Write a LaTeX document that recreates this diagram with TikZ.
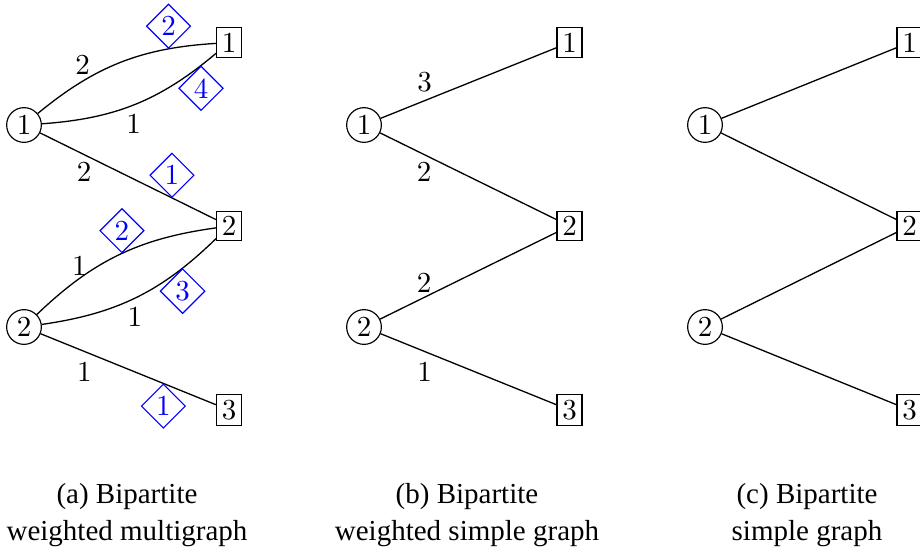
\documentclass[tikz,border=0pt]{standalone}
\usepackage{fontspec}
\newfontfamily\capfont{Liberation Serif}
\usetikzlibrary{shapes.geometric}
\tikzset{
  circnode/.style={circle, draw, inner sep=1.3pt, line width=0.4pt},
  sqnode/.style={rectangle, draw, inner sep=1.8pt, line width=0.4pt},
  dia/.style={diamond, aspect=1, draw=blue, text=blue, inner sep=0.9pt, line width=0.4pt},
  lbl/.style={inner sep=2pt},
  edge/.style={line width=0.45pt},
  capnode/.style={align=center, inner sep=0pt, font=\capfont\fontsize{10}{12.6}\selectfont}
}
\begin{document}
\begin{tikzpicture}[x=0.3448pt, y=-0.3448pt]
\useasboundingbox (0,0) rectangle (920,552);
% ---------- panel (a)
\node[circnode] (a1) at (24,125) {1};
\node[circnode] (a2) at (24,327) {2};
\node[sqnode] (as1) at (229,42.5) {1};
\node[sqnode] (as2) at (229,226) {2};
\node[sqnode] (as3) at (229,410) {3};
\draw[edge] (a1) to[bend left=18]
  node[lbl, pos=0.27, above=0pt] {2}
  node[dia, pos=0.77, anchor=south] {2} (as1);
\draw[edge] (a1) to[bend right=18]
  node[lbl, pos=0.49, below=1pt] {1}
  node[dia, pos=0.91, anchor=north] {4} (as1);
\draw[edge] (a1) --
  node[lbl, pos=0.25, below=0.5pt] {2}
  node[dia, pos=0.75, anchor=south] {1} (as2);
\draw[edge] (a2) to[bend left=18]
  node[lbl, pos=0.26, above=-1pt] {1}
  node[dia, pos=0.52, anchor=south] {2} (as2);
\draw[edge] (a2) to[bend right=18]
  node[lbl, pos=0.49, below=1pt] {1}
  node[dia, pos=0.79, anchor=north] {3} (as2);
\draw[edge] (a2) --
  node[lbl, pos=0.25, below=1.5pt] {1}
  node[dia, pos=0.7, anchor=north] {1} (as3);
\node[capnode] (capa) at (127,515) {(a) Bipartite\\weighted multigraph};
% ---------- panel (b)
\node[circnode] (b1) at (364,125) {1};
\node[circnode] (b2) at (364,327) {2};
\node[sqnode] (bs1) at (569.5,42.5) {1};
\node[sqnode] (bs2) at (569.5,226) {2};
\node[sqnode] (bs3) at (569.5,410) {3};
\draw[edge] (b1) -- node[lbl, pos=0.25, above=0.7pt] {3} (bs1);
\draw[edge] (b1) -- node[lbl, pos=0.25, below=0.3pt] {2} (bs2);
\draw[edge] (b2) -- node[lbl, pos=0.25, above=-0.4pt] {2} (bs2);
\draw[edge] (b2) -- node[lbl, pos=0.25, below=1.6pt] {1} (bs3);
\node[capnode] (capb) at (467,515) {(b) Bipartite\\weighted simple graph};
% ---------- panel (c)
\node[circnode] (c1) at (705,125) {1};
\node[circnode] (c2) at (705,327) {2};
\node[sqnode] (cs1) at (909.5,42.5) {1};
\node[sqnode] (cs2) at (909.5,226) {2};
\node[sqnode] (cs3) at (909.5,410) {3};
\draw[edge] (c1) -- (cs1);
\draw[edge] (c1) -- (cs2);
\draw[edge] (c2) -- (cs2);
\draw[edge] (c2) -- (cs3);
\node[capnode] (capc) at (807,515) {(c) Bipartite\\simple graph};
\end{tikzpicture}
\end{document}
